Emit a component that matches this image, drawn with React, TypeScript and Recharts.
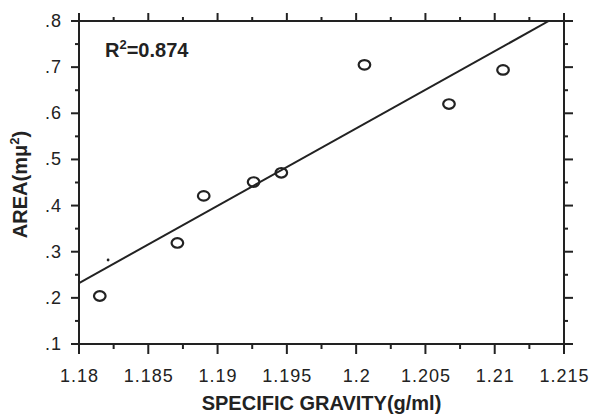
import React from 'react';
import { ScatterChart, Scatter, XAxis, YAxis, ReferenceArea } from 'recharts';

// measured points: specific gravity (g/ml) vs area
const gravity = [1.1815, 1.1871, 1.189, 1.1926, 1.1946, 1.2006, 1.2067, 1.2106];
const area = [0.204, 0.319, 0.421, 0.451, 0.471, 0.705, 0.62, 0.694];

// regression line end points (clipped at the top of the frame)
const fitX = [1.18, 1.2139];
const fitY = [0.232, 0.8];

// small stray mark in the original
const specX = [1.1821];
const specY = [0.282];

const xMajor = [1.18, 1.185, 1.19, 1.195, 1.2, 1.205, 1.21, 1.215];
const xMinor = [1.1825, 1.1875, 1.1925, 1.1975, 1.2025, 1.2075, 1.2125];
const yMajor = [0.1, 0.2, 0.3, 0.4, 0.5, 0.6, 0.7, 0.8];
const yMinor = [0.15, 0.25, 0.35, 0.45, 0.55, 0.65, 0.75];
const yLabels = ['.1', '.2', '.3', '.4', '.5', '.6', '.7', '.8'];

const INK = '#222';
const FONT = '"Liberation Sans", Arial, sans-serif';

const points = gravity.map((g, i) => ({ x: g, y: area[i] }));
const fitLine = fitX.map((g, i) => ({ x: g, y: fitY[i] }));
const speck = specX.map((g, i) => ({ x: g, y: specY[i] }));

const xTicks = [...xMajor, ...xMinor].sort((a, b) => a - b);
const yTicks = [...yMajor, ...yMinor].sort((a, b) => a - b);

const isMajor = (list: number[], v: number) => list.some((m) => Math.abs(m - v) < 1e-9);
const lineStyle = { stroke: INK, strokeWidth: 2 };

const BottomTick = (props: any) => {
  const { x, y, payload } = props;
  const major = isMajor(xMajor, payload.value);
  return (
    <g>
      <line x1={x} x2={x} y1={y} y2={y + (major ? 10 : 5)} style={lineStyle} />
      {major && (
        <text x={x + 0.5} y={y + 38} textAnchor="middle" fontFamily={FONT} fontSize={18} letterSpacing={1} fill={INK}>
          {String(payload.value)}
        </text>
      )}
    </g>
  );
};

const TopTick = (props: any) => {
  const { x, y, payload } = props;
  const major = isMajor(xMajor, payload.value);
  return <line x1={x} x2={x} y1={y} y2={y - (major ? 8 : 4)} style={lineStyle} />;
};

const LeftTick = (props: any) => {
  const { x, y, payload } = props;
  const idx = yMajor.findIndex((m) => Math.abs(m - payload.value) < 1e-9);
  return (
    <g>
      <line x1={x} x2={x - (idx >= 0 ? 8 : 4)} y1={y} y2={y} style={lineStyle} />
      {idx >= 0 && (
        <text x={x - 17} y={y + 6} textAnchor="end" fontFamily={FONT} fontSize={18} letterSpacing={1} fill={INK}>
          {yLabels[idx]}
        </text>
      )}
    </g>
  );
};

const RightTick = (props: any) => {
  const { x, y, payload } = props;
  const major = isMajor(yMajor, payload.value);
  return <line x1={x} x2={x + (major ? 9 : 4)} y1={y} y2={y} style={lineStyle} />;
};

const Ring = (props: any) => {
  const { cx, cy } = props;
  return <ellipse cx={cx} cy={cy} rx={5.8} ry={4.8} fill="none" stroke={INK} strokeWidth={2.2} />;
};

const Dot = (props: any) => <circle cx={props.cx} cy={props.cy} r={1.4} fill={INK} />;
const Nothing = () => <g />;

export default function App() {
  return (
    <div style={{ position: 'absolute', left: 0, top: 0, width: 590, height: 416, background: '#fff' }}>
      <ScatterChart width={590} height={416} margin={{ top: 20, right: 25, bottom: 0, left: 0 }}>
        <XAxis
          xAxisId="b"
          type="number"
          dataKey="x"
          domain={[1.18, 1.215]}
          ticks={xTicks}
          interval={0}
          allowDataOverflow
          height={72}
          tickSize={0}
          tickMargin={0}
          tickLine={false}
          axisLine={false}
          tick={<BottomTick />}
          label={{
            content: ({ viewBox }: any) => (
              <text
                x={viewBox.x + viewBox.width / 2}
                y={viewBox.y + 66}
                textAnchor="middle"
                fontFamily={FONT}
                fontWeight="bold"
                fontSize={20}
                fill={INK}
              >
                SPECIFIC GRAVITY(g/ml)
              </text>
            ),
          }}
        />
        <XAxis
          xAxisId="t"
          orientation="top"
          type="number"
          dataKey="x"
          domain={[1.18, 1.215]}
          ticks={xTicks}
          interval={0}
          allowDataOverflow
          height={1}
          tickSize={0}
          tickMargin={0}
          tickLine={false}
          axisLine={false}
          tick={<TopTick />}
          label={{
            content: ({ viewBox }: any) => (
              <text x={viewBox.x + 26} y={viewBox.y + 37} fontFamily={FONT} fontWeight="bold" fontSize={20} fill={INK}>
                R
                <tspan dy={-8} fontSize={13}>2</tspan>
                <tspan dy={8}>=0.874</tspan>
              </text>
            ),
          }}
        />
        <YAxis
          yAxisId="l"
          type="number"
          dataKey="y"
          domain={[0.1, 0.8]}
          ticks={yTicks}
          interval={0}
          allowDataOverflow
          width={79}
          tickSize={0}
          tickMargin={0}
          tickLine={false}
          axisLine={false}
          tick={<LeftTick />}
          label={{
            content: ({ viewBox }: any) => {
              const cx = viewBox.x + 27;
              const cy = viewBox.y + viewBox.height / 2 + 2;
              return (
                <text
                  x={cx}
                  y={cy}
                  transform={`rotate(-90, ${cx}, ${cy})`}
                  textAnchor="middle"
                  fontFamily={FONT}
                  fontWeight="bold"
                  fontSize={20}
                  fill={INK}
                >
                  AREA(mμ
                  <tspan dy={-8} fontSize={13}>2</tspan>
                  <tspan dy={8}>)</tspan>
                </text>
              );
            },
          }}
        />
        <YAxis
          yAxisId="r"
          orientation="right"
          type="number"
          dataKey="y"
          domain={[0.1, 0.8]}
          ticks={yTicks}
          interval={0}
          allowDataOverflow
          width={1}
          tickSize={0}
          tickMargin={0}
          tickLine={false}
          axisLine={false}
          tick={<RightTick />}
        />
        {/* frame around the plot, drawn on the data scales */}
        <ReferenceArea
          xAxisId="b"
          yAxisId="l"
          x1={1.18}
          x2={1.215}
          y1={0.1}
          y2={0.8}
          fill="none"
          fillOpacity={0}
          stroke={INK}
          strokeWidth={2}
          strokeOpacity={1}
          ifOverflow="visible"
        />
        {/* keeps the top and right frame axes in use */}
        <Scatter xAxisId="t" yAxisId="r" data={points} shape={<Nothing />} isAnimationActive={false} />
        <Scatter
          xAxisId="b"
          yAxisId="l"
          data={fitLine}
          line={lineStyle}
          shape={<Nothing />}
          isAnimationActive={false}
        />
        <Scatter xAxisId="b" yAxisId="l" data={points} shape={<Ring />} isAnimationActive={false} />
        <Scatter xAxisId="b" yAxisId="l" data={speck} shape={<Dot />} isAnimationActive={false} />
      </ScatterChart>
    </div>
  );
}
